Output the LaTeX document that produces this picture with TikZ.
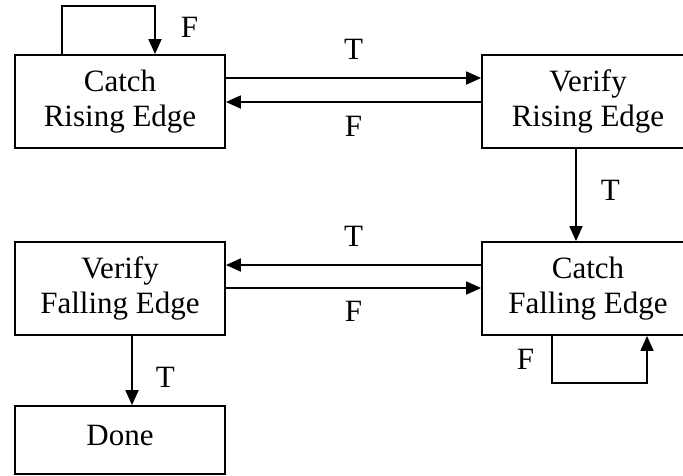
\documentclass[tikz,border=0pt]{standalone}
\usepackage{fontspec}
\setmainfont{Liberation Serif}
\usetikzlibrary{arrows.meta}

\begin{document}
\begin{tikzpicture}[x=1pt, y=-1pt, line width=1.8pt,
    state/.style={rectangle, draw=black, align=center, minimum height=93pt,
        font=\fontsize{31}{35}\selectfont},
    lbl/.style={inner sep=0pt, font=\fontsize{31}{35}\selectfont},
    >={Triangle[length=15pt, width=13pt]}]
    \useasboundingbox (0,0) rectangle (683,475);
    \clip (0,0) rectangle (683,475);

    \node[state, minimum width=210pt] (crise) at (120, 101.5) {Catch\\Rising Edge};
    \node[state, minimum width=212pt] (vrise) at (588, 101.5) {Verify\\Rising Edge};
    \node[state, minimum width=212pt] (cfall) at (588, 288.5) {Catch\\Falling Edge};
    \node[state, minimum width=210pt] (vfall) at (120, 288.5) {Verify\\Falling Edge};
    \node[state, minimum width=210pt, minimum height=68pt] (done) at (120, 440) {\raisebox{10pt}{Done}};

    % waiting for the rising edge
    \draw[->] ([xshift=-58pt]crise.north) -- ++(0,-48) -| ([xshift=35pt]crise.north)
        node[lbl, pos=0.72, right=25pt] {F};
    \draw[->] ([yshift=23.5pt]crise.east) -- ([yshift=23.5pt]vrise.west)
        node[lbl, midway, above=18pt] {T};
    \draw[->] ([yshift=-0.5pt]vrise.west) -- ([yshift=-0.5pt]crise.east)
        node[lbl, midway, below=13pt] {F};
    \draw[->] ([xshift=-12pt]vrise.south) -- ([xshift=-12pt]cfall.north)
        node[lbl, pos=0.45, right=24pt] {T};

    % waiting for the falling edge
    \draw[->] ([xshift=-36pt]cfall.south) -- ++(0,47) node[lbl, midway, left=17pt] {F}
        -| ([xshift=59pt]cfall.south);
    \draw[->] ([yshift=23.5pt]cfall.west) -- ([yshift=23.5pt]vfall.east)
        node[lbl, midway, above=18pt] {T};
    \draw[->] ([yshift=0.5pt]vfall.east) -- ([yshift=0.5pt]cfall.west)
        node[lbl, midway, below=12pt] {F};
    \draw[->] ([xshift=12pt]vfall.south) -- ([xshift=12pt]done.north)
        node[lbl, pos=0.6, right=23pt] {T};
\end{tikzpicture}
\end{document}
